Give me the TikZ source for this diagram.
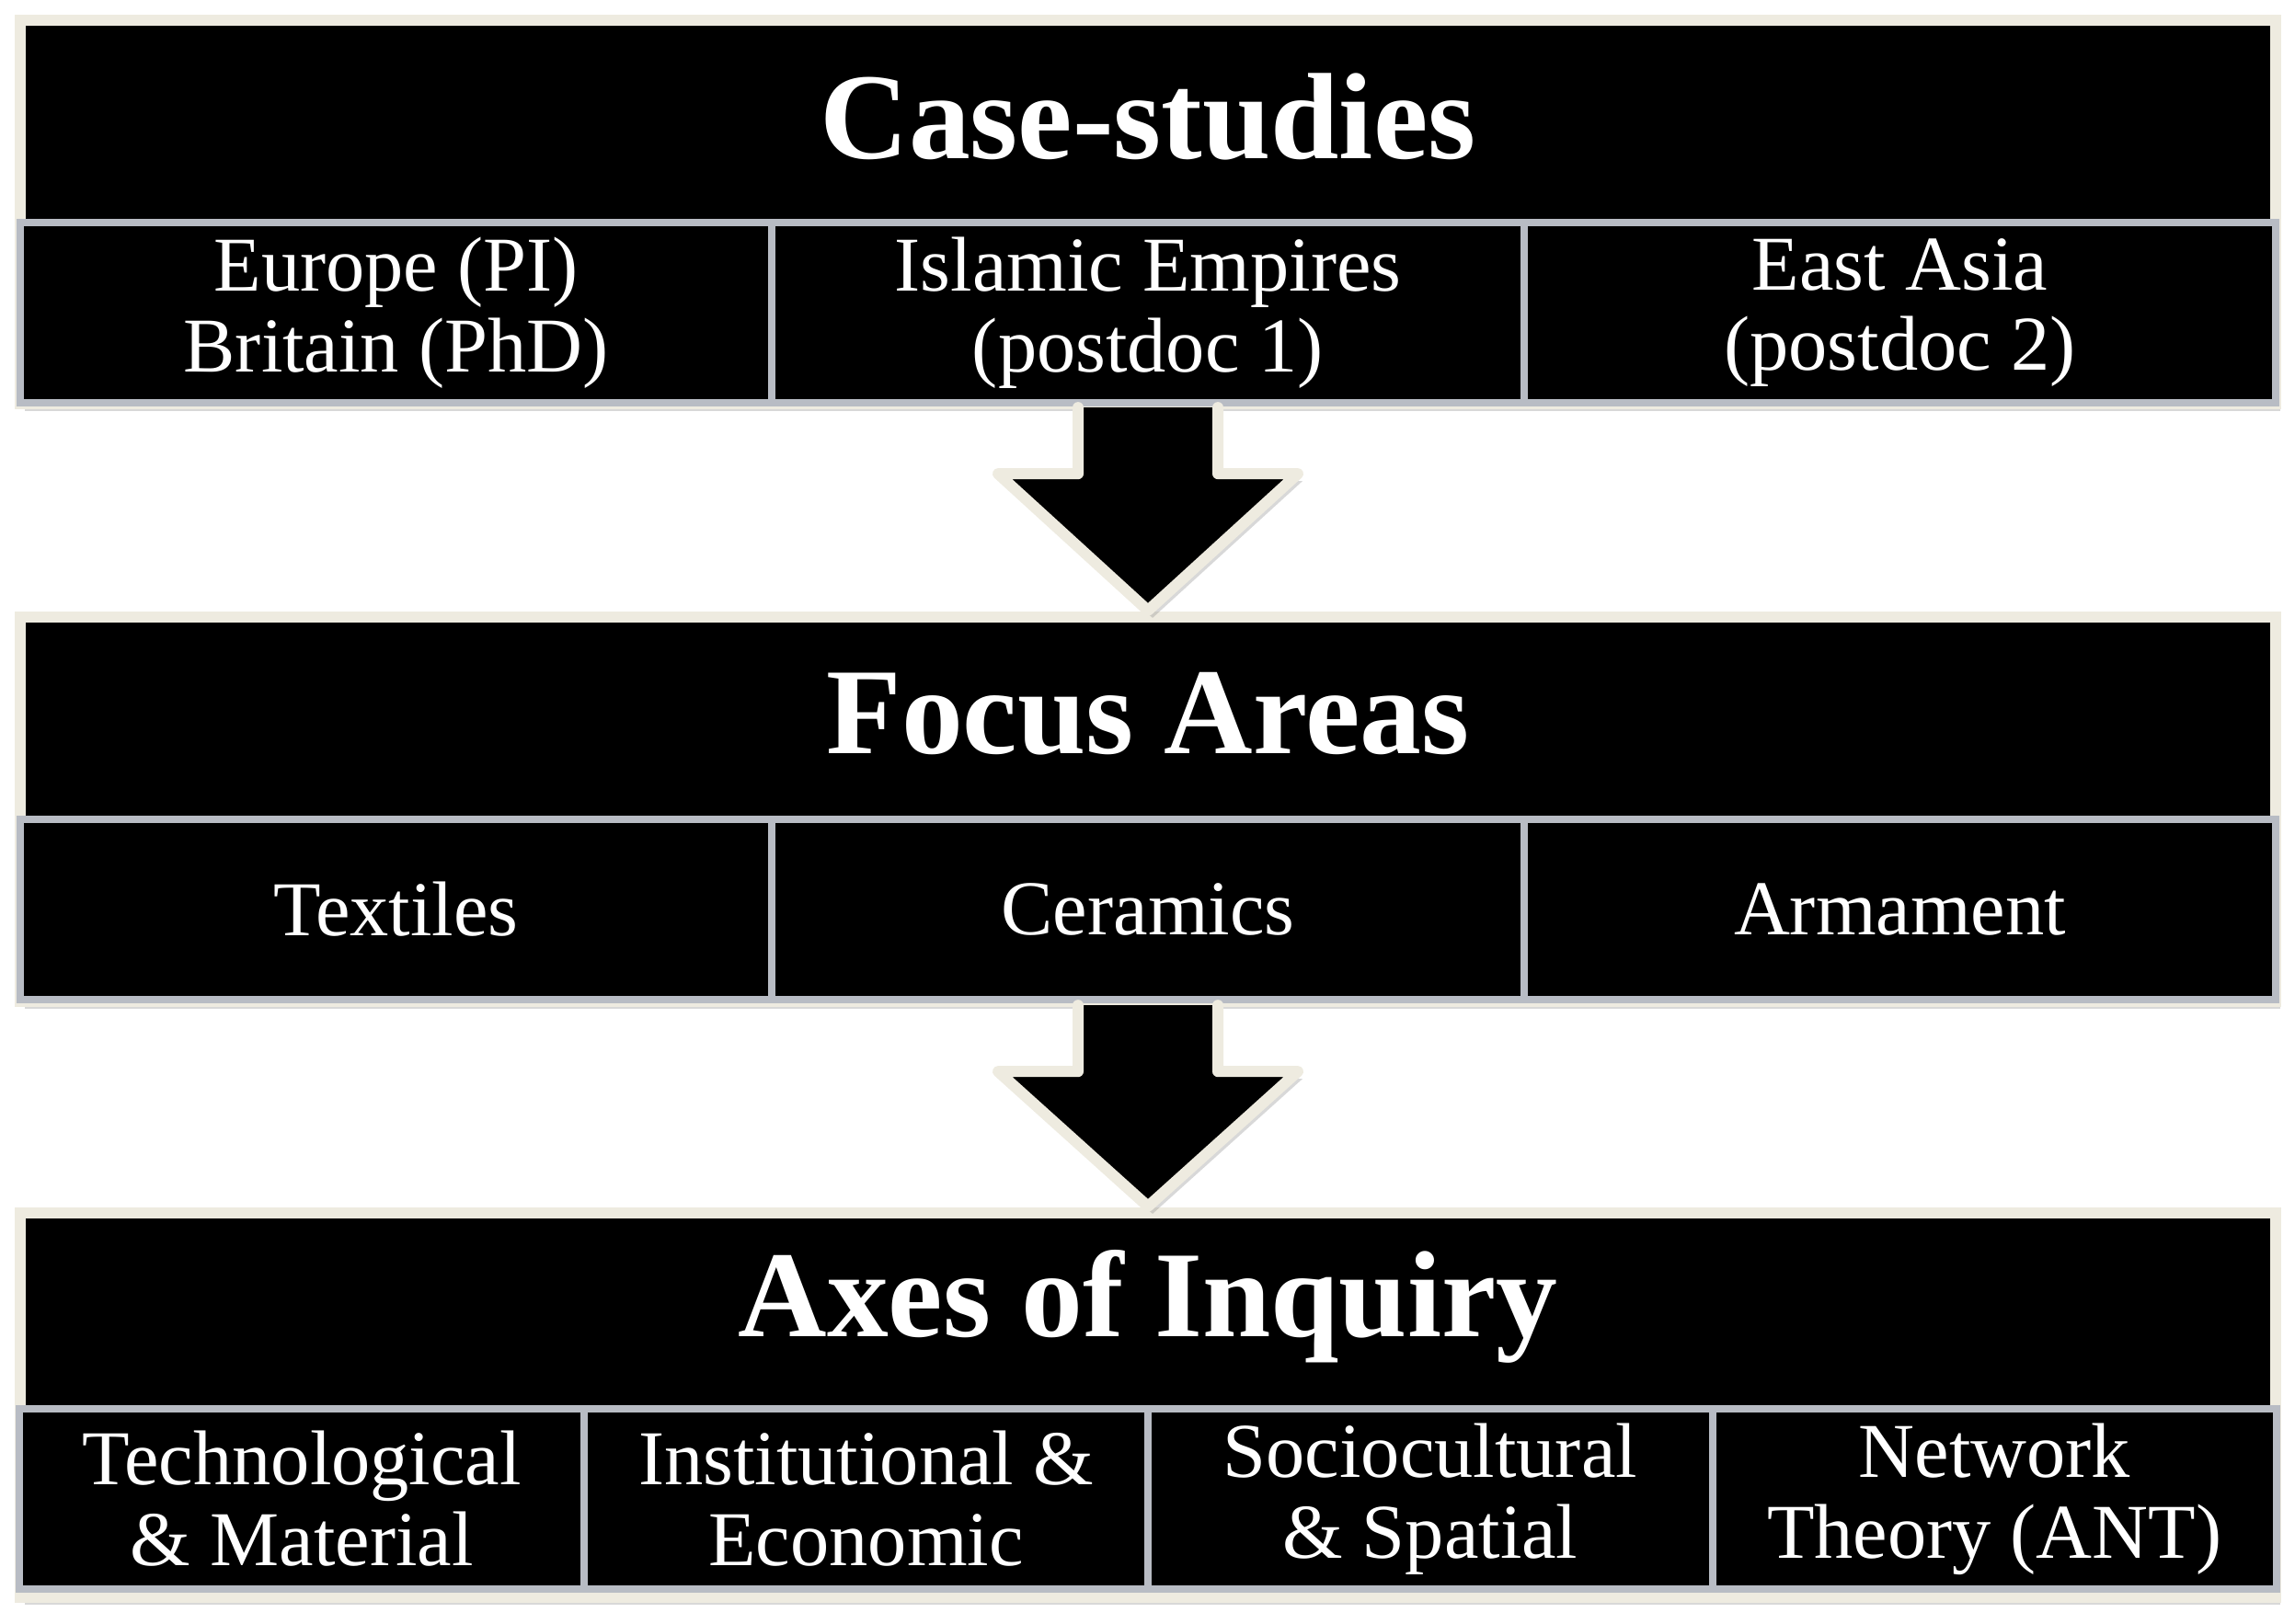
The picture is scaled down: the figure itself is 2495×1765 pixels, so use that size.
\documentclass[tikz,border=0pt]{standalone}
\usepackage{fontspec}
\setmainfont{Liberation Serif}
\usepackage{tikz}
\usetikzlibrary{positioning,shadows,calc}

\definecolor{cream}{HTML}{EEEBE0}
\definecolor{cellgrey}{HTML}{B8BCC4}

% block arrow from the bottom of one block to the top of the next
\newcommand{\flowarrow}[2]{%
  \fill[black,arrowshadow] ($(#1.south)+(-76,4)$) -- ($(#1.south)+(-76,76)$) -- ($(#1.south)+(-163,76)$)
    -- ($(#2.north)+(0,-7)$) -- ($(#1.south)+(163,76)$) -- ($(#1.south)+(76,76)$) -- ($(#1.south)+(76,4)$) -- cycle;
  \draw[arrowedge] ($(#1.south)+(-76,4)$) -- ($(#1.south)+(-76,76)$) -- ($(#1.south)+(-163,76)$)
    -- ($(#2.north)+(0,-7)$) -- ($(#1.south)+(163,76)$) -- ($(#1.south)+(76,76)$) -- ($(#1.south)+(76,4)$);
}

\begin{document}
\begin{tikzpicture}[x=0.01cm,y=-0.01cm,
  block/.style={draw=cream,line width=1.2mm,fill=black,minimum width=24.51cm,
    inner sep=0,outer sep=0,drop shadow={shadow xshift=0.5mm,shadow yshift=-0.8mm,opacity=0.3}},
  title/.style={text=white,font=\fontsize{38}{40}\selectfont\bfseries},
  cell/.style={draw=cellgrey,line width=0.8mm,fill=black,text=white,minimum height=1.96cm,
    inner sep=0,outer sep=0,align=center,font=\fontsize{24}{25}\selectfont},
  wide/.style={cell,minimum width=8.17cm},
  narrow/.style={cell,minimum width=6.13cm},
  arrowshadow/.style={drop shadow={shadow xshift=0.5mm,shadow yshift=-0.8mm,opacity=0.3}},
  arrowedge/.style={draw=cream,line width=1.2mm,line join=round,line cap=round}]

  \fill[white] (0,0) rectangle (2495,1765);
  \useasboundingbox (0,0) rectangle (2495,1765);

  % case-studies
  \node[block,minimum height=4.17cm] (case) at (1248,230.5) {};
  \node[title] (casehead) at (1248,127) {Case-studies};
  \node[wide] (islam) at (1248,340) {Islamic Empires\\(postdoc 1)};
  \node[wide] (europe) [left=0pt of islam] {Europe (PI)\\Britain (PhD)};
  \node[wide] (eastasia) [right=0pt of islam] {East Asia\\(postdoc 2)};

  % focus areas
  \node[block,minimum height=4.18cm] (focus) at (1248,880) {};
  \node[title] (focushead) at (1248,776) {Focus Areas};
  \node[wide] (ceramics) at (1248,989) {Ceramics};
  \node[wide] (textiles) [left=0pt of ceramics] {Textiles};
  \node[wide] (armament) [right=0pt of ceramics] {Armament};

  % axes of inquiry
  \node[block,minimum height=4.18cm] (axes) at (1248,1528) {};
  \node[title] (axeshead) at (1248,1421) {Axes of Inquiry};
  \node[narrow] (instecon) at (941.5,1630) {Institutional \&\\Economic};
  \node[narrow] (techmat) [left=0pt of instecon] {Technological\\\& Material};
  \node[narrow] (sociospat) [right=0pt of instecon] {Sociocultural\\\& Spatial};
  \node[narrow] (network) [right=0pt of sociospat] {Network\\Theory (ANT)};

  \flowarrow{case}{focus}
  \flowarrow{focus}{axes}

\end{tikzpicture}
\end{document}
